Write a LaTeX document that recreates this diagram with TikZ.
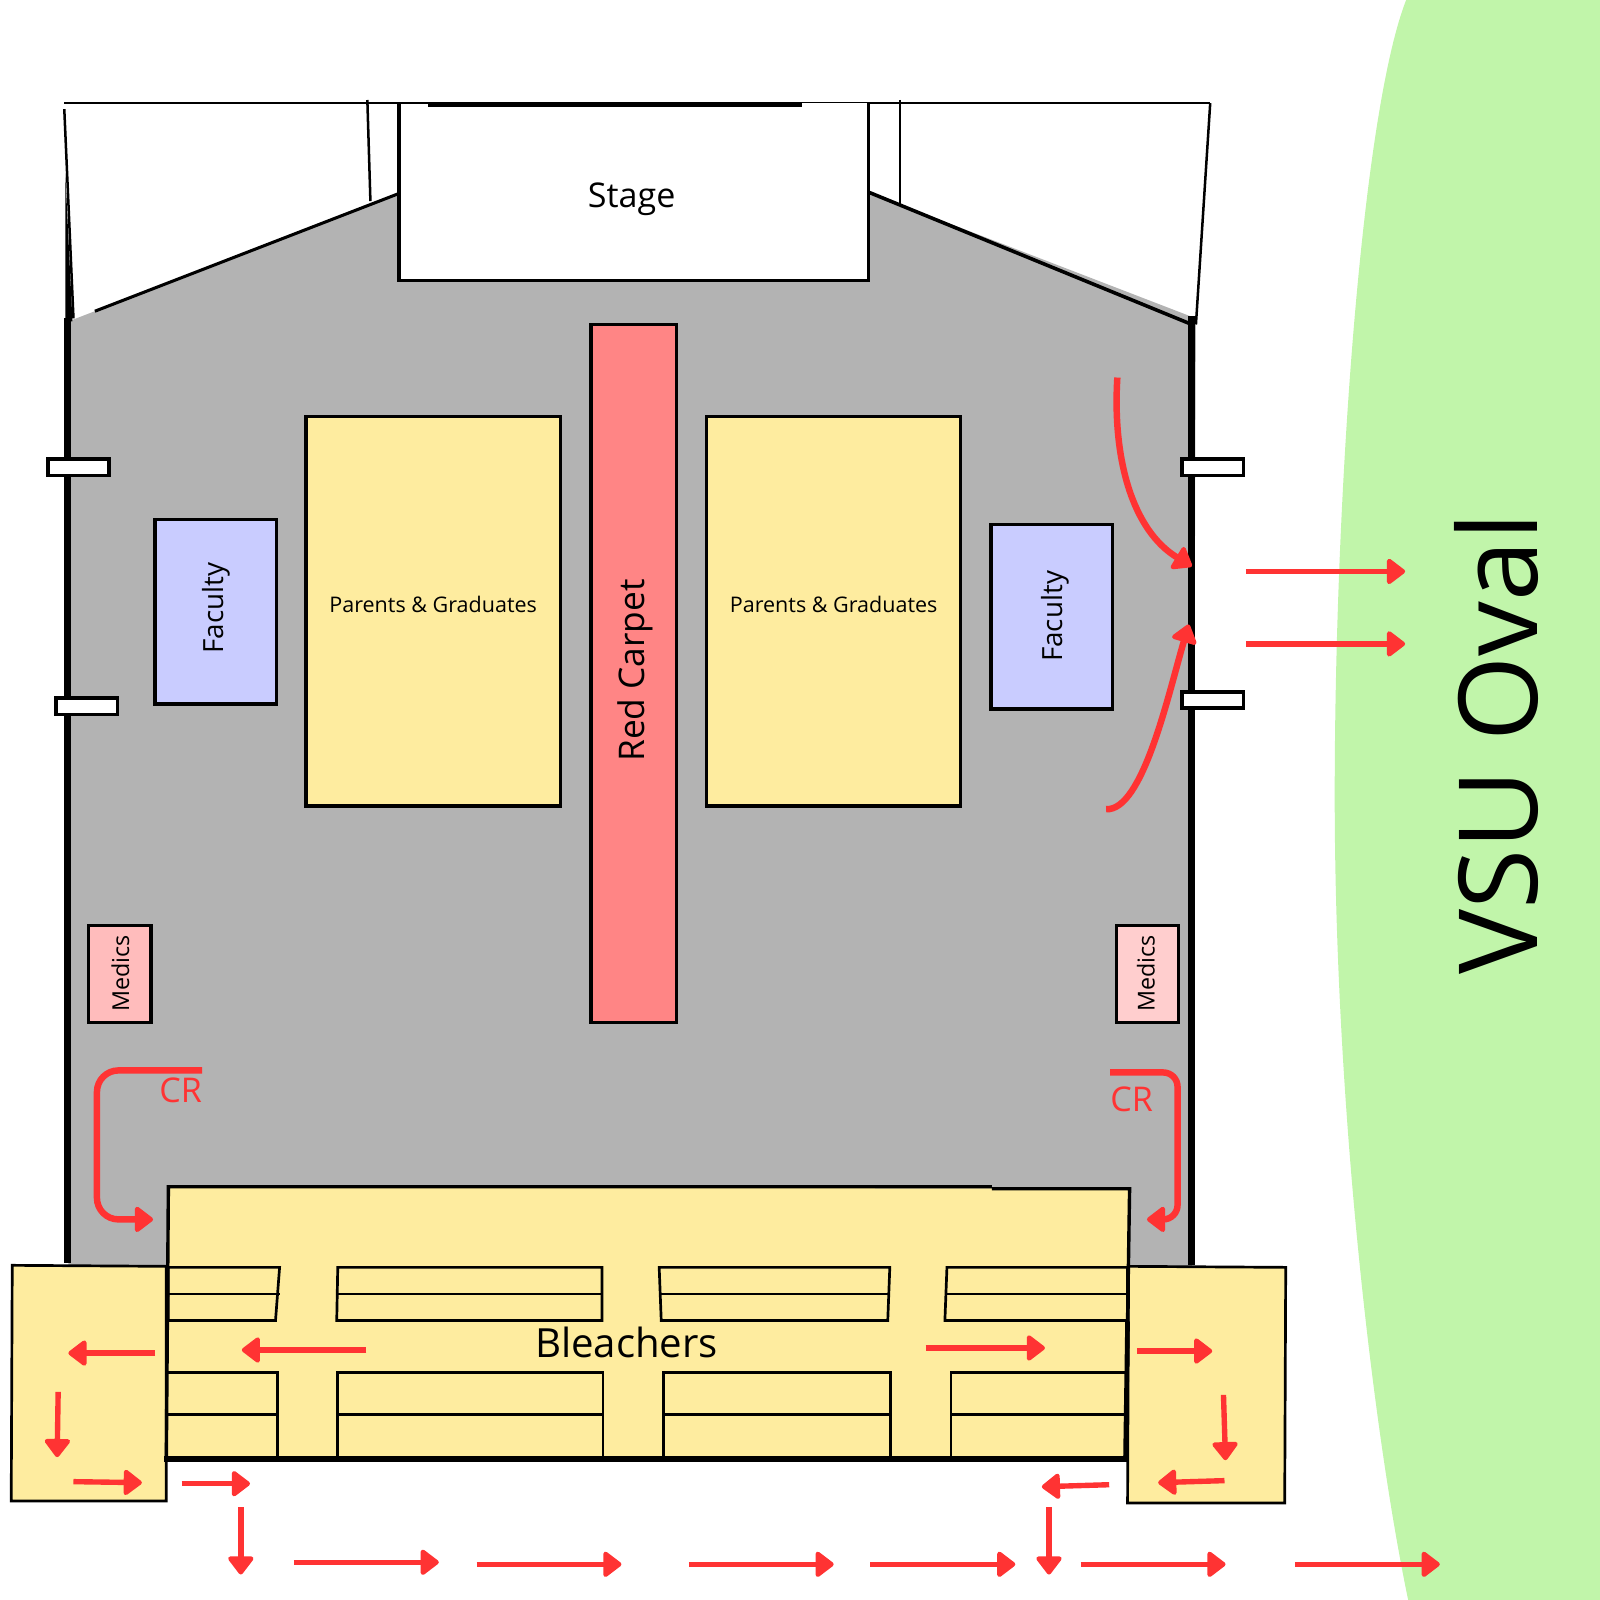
\documentclass[tikz,border=0pt]{standalone}
\usepackage{fontspec}
\setmainfont{Open Sans}
\usetikzlibrary{arrows.meta,positioning,calc}
\definecolor{floorgray}{HTML}{B3B3B3}
\definecolor{seatyellow}{HTML}{FEEC9F}
\definecolor{carpetred}{HTML}{FF8585}
\definecolor{facultyblue}{HTML}{C9CCFF}
\definecolor{ovalgreen}{HTML}{C1F5AA}
\definecolor{routered}{HTML}{FF3333}

\begin{document}
\begin{tikzpicture}[x=0.02cm, y=-0.02cm, line join=miter]
\tikzset{
  every node/.style={inner sep=0pt, outer sep=0pt},
  block/.style={draw=black, line width=1.9pt},
  seat/.style={block, fill=seatyellow},
  side seat/.style={draw=black, line width=1.5pt, fill=seatyellow},
  wall/.style={line width=4pt, draw=black},
  thin wall/.style={line width=1.4pt, draw=black},
  bench/.style={line width=1.5pt, draw=black},
  door/.style={block, fill=white},
  route/.style={draw=routered, line width=3pt, -{Triangle[round, line width=2.5pt, length=11pt, width=16pt]}},
  curved route/.style={route, line width=3.6pt},
  small text/.style={font=\fontsize{12}{14}\selectfont},
  label text/.style={font=\fontsize{13}{16}\selectfont},
  big text/.style={font=\fontsize{19}{23}\selectfont}
}
\useasboundingbox (0,0) rectangle (1568,1568);

% the oval and the floor
\fill[ovalgreen] (1378,0) .. controls (1335,110) and (1308,480) .. (1308,780)
  .. controls (1308,1080) and (1345,1400) .. (1380,1568) -- (1568,1568) -- (1568,0) -- cycle;
\fill[floorgray] (67,315) -- (390,190) -- (850,188) -- (1172,312) -- (1168,1242) -- (67,1242) -- cycle;

% walls and roof lines
\draw[thin wall] (63,101) -- (1186,101);
\draw[thin wall] (63,107) -- (72,312);
\draw[thin wall] (360,98) -- (363,197);
\draw[thin wall] (882,98) -- (882,201);
\draw[thin wall] (1186,101) -- (1172,318);
\draw[line width=1.7pt] (93,305) -- (390,190);
\draw[line width=2pt] (848,187) -- (1168,318);
\fill (64,170) -- (71,315) -- (64,315) -- cycle;
\draw[wall] (66.5,312) -- (66.5,1238);
\draw[wall] (1168,310) -- (1168,1240);

% stage and seats
\node[fill=white, minimum width=460*0.02cm, minimum height=174*0.02cm] (stage) at (621,188) {};
\draw[block] (stage.north west) -- (stage.south west) -- (stage.south east) -- (stage.north east);
\draw[line width=2.2pt] (419,103) -- (786,103);
\draw[thin wall] (63,101) -- (419,101);
\node[big text] (stagetext) at (619,195) {Stage};
\node[block, fill=carpetred, minimum width=84*0.02cm, minimum height=684*0.02cm] (carpet) at (621,660) {};
\node[rotate=90, font=\fontsize{19.7}{24}\selectfont] (carpettext) at (623,657) {Red Carpet};
\node[seat, minimum width=249*0.02cm, minimum height=382*0.02cm] (seatsl) at (424.5,599) {};
\node[small text] (seatsltext) at (424.5,592) {Parents \& Graduates};
\node[seat, minimum width=249*0.02cm, minimum height=382*0.02cm] (seatsr) at (817,599) {};
\node[small text] (seatsrtext) at (817,592) {Parents \& Graduates};
\node[block, fill=facultyblue, minimum width=119*0.02cm, minimum height=181*0.02cm] (facl) at (211.5,599.5) {};
\node[rotate=90, font=\fontsize{15.5}{19}\selectfont] (facltext) at (212,596) {Faculty};
\node[block, fill=facultyblue, minimum width=119*0.02cm, minimum height=181*0.02cm] (facr) at (1030.5,604.5) {};
\node[rotate=90, font=\fontsize{15.5}{19}\selectfont] (facrtext) at (1034,604) {Faculty};
\node[block, fill=carpetred!55, minimum width=61*0.02cm, minimum height=95*0.02cm] (medl) at (117.5,954.5) {};
\node[rotate=90, label text] (medltext) at (118,954) {Medics};
\node[block, fill=carpetred!40, minimum width=61*0.02cm, minimum height=95*0.02cm] (medr) at (1124.5,954.5) {};
\node[rotate=90, label text] (medrtext) at (1123,954) {Medics};

% doors
\node[door, minimum width=60*0.02cm, minimum height=16*0.02cm] (doora) at (77,458) {};
\node[door, minimum width=60*0.02cm, minimum height=16*0.02cm] (doorb) at (85,692) {};
\node[door, minimum width=60*0.02cm, minimum height=16*0.02cm] (doorc) at (1188.5,458) {};
\node[door, minimum width=60*0.02cm, minimum height=16*0.02cm] (doord) at (1188.5,686) {};

% bleachers
\fill[seatyellow] (165,1163) -- (1107,1165) -- (1103,1430) -- (163,1430) -- cycle;
\draw[side seat] (12,1240) -- (163,1241) -- (163,1471) -- (11,1471) -- cycle;
\draw[side seat] (1106,1241) -- (1260,1242) -- (1259,1473) -- (1105,1473) -- cycle;
\draw[block] (163,1430) -- (165,1163) -- (972,1163);
\draw[block] (972,1165) -- (1107,1165) -- (1105,1295);
\draw[line width=2.6pt] (1105,1295) -- (1103,1430);
\draw[line width=3.2pt] (161,1430) -- (1105,1430);
\foreach \a/\b/\c/\d in {165/274/165/270, 331/590/330/590, 646/872/648/870, 928/1105/926/1105}{
  \draw[bench] (\a,1242) -- (\b,1242) -- (\d,1294) -- (\c,1294) -- cycle;
  \draw[bench] (\a,1268) -- (\b,1268);
}
\foreach \a/\b in {163/272, 331/591, 650/873, 932/1104}{
  \draw[bench] (\a,1430) -- (\a,1345) -- (\b,1345) -- (\b,1430);
  \draw[bench] (\a,1386) -- (\b,1386);
}
\node[font=\fontsize{22.4}{27}\selectfont] (bleacherstext) at (614,1316) {Bleachers};

% routes
\draw[curved route] (1095,370) .. controls (1090,450) and (1110,520) .. (1168,555);
\draw[curved route] (1084,793) .. controls (1120,795) and (1145,680) .. (1165,612);
\draw[route] (1221,560) -- (1377,560);
\draw[route] (1221,631) -- (1377,631);
\draw[curved route, rounded corners=12pt] (198,1049) -- (95,1049) -- (95,1195) -- (150,1195);
\draw[curved route, rounded corners=8pt] (1088,1051) -- (1154,1051) -- (1154,1195) -- (1124,1195);
\foreach \a/\b/\c/\d in {359/1323/237/1323, 907/1321/1024/1321, 152/1326/67/1326, 57/1364/56/1428,
  72/1452/139/1453, 178/1454/245/1454, 236/1477/236/1543, 288/1531/430/1531, 467/1533/609/1533,
  675/1533/817/1533, 853/1533/995/1533, 1028/1477/1028/1543, 1059/1533/1201/1533, 1269/1533/1411/1533,
  1087/1455/1021/1457, 1114/1324/1188/1324, 1199/1367/1201/1431, 1200/1451/1135/1453}{
  \draw[route] (\a,\b) -- (\c,\d);
}
\node[text=routered, big text] (crl) at (177,1069) {CR};
\node[text=routered, big text] (crr) at (1109,1077) {CR};

\node[rotate=90, font=\fontsize{61}{71}\selectfont] (ovaltext) at (1467,729) {VSU Oval};
\end{tikzpicture}
\end{document}
